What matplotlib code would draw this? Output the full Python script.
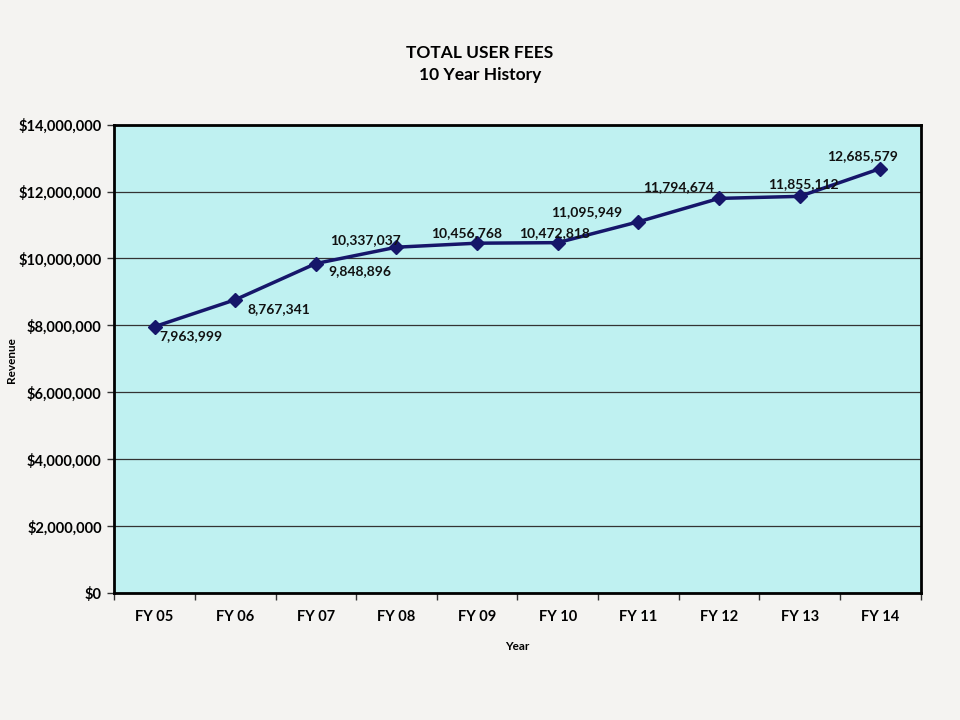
import matplotlib.pyplot as plt
from matplotlib.ticker import FuncFormatter

years = ["FY 05", "FY 06", "FY 07", "FY 08", "FY 09", "FY 10", "FY 11", "FY 12", "FY 13", "FY 14"]
revenue = [7963999, 8767341, 9848896, 10337037, 10456768, 10472818, 11095949, 11794674, 11855112, 12685579]
# label offsets in pixels (dx, dy) and alignment
offsets = [(5, -9, "left"), (12, -9, "left"), (13, -8, "left"), (4, 7, "right"),
           (-11, 10, "center"), (-3, 10, "center"), (-16, 10, "right"), (-5, 11, "right"),
           (4, 12, "center"), (-18, 12, "center")]

plt.rcParams['font.family'] = ['Lato', 'DejaVu Sans']
plt.rcParams['font.weight'] = 'bold'

fig = plt.figure(figsize=(9.6, 7.2), dpi=100, facecolor='#f4f3f1')
ax = fig.add_axes([0.119, 0.176, 0.840, 0.651])
ax.set_facecolor('#bff1f1')

x = list(range(len(years)))
ax.plot(x, revenue, color='#16166a', lw=2.5, marker='D', ms=7, zorder=3)

for xi, v, (dx, dy, ha) in zip(x, revenue, offsets):
    ax.annotate(f"{v:,}", (xi, v), xytext=(dx, dy), textcoords='offset pixels',
                ha=ha, va='center', fontsize=10, fontweight='bold', color='#111111')

ax.set_xlim(-0.5, len(years) - 0.5)
ax.set_ylim(0, 14000000)
ax.set_yticks(range(0, 14000001, 2000000))
ax.yaxis.set_major_formatter(FuncFormatter(lambda v, p: f"${v:,.0f}"))
ax.set_xticks(x)
ax.set_xticklabels(years)
ax.set_xticks([i - 0.5 for i in range(len(years) + 1)], minor=True)
ax.tick_params(axis='x', which='major', length=0, pad=12, labelsize=10.5)
ax.tick_params(axis='x', which='minor', length=5, width=1, color='#333333')
ax.tick_params(axis='y', length=5, width=1, color='#333333', labelsize=10.5, pad=4)

ax.grid(axis='y', color='#333333', lw=0.9)
ax.set_axisbelow(True)
for s in ax.spines.values():
    s.set_linewidth(2)
    s.set_color('black')

ax.set_xlabel("Year", fontsize=8.5, fontweight='bold', labelpad=12)
fig.text(12 / 960, 0.5, "Revenue", rotation=90, ha='center', va='center',
         fontsize=8.5, fontweight='bold')
fig.text(0.5, 0.911, "TOTAL USER FEES\n10 Year History", ha='center', va='center',
         fontsize=12.5, fontweight='bold', linespacing=1.5)

fig.savefig("out.png", dpi=100, facecolor=fig.get_facecolor())
